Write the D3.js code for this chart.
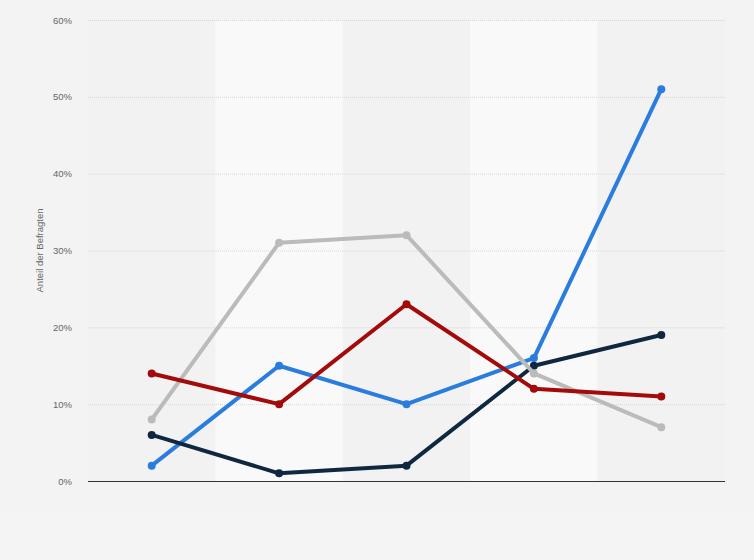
<!DOCTYPE html>
<html>
<head>
<meta charset="utf-8">
<script src="https://cdn.jsdelivr.net/npm/d3@7/dist/d3.min.js"></script>
<style>
html,body{margin:0;padding:0;background:#f4f4f4;}
svg{display:block;}
</style>
</head>
<body>
<svg id="chart" width="754" height="560"></svg>
<script>
const categories = ["A", "B", "C", "D", "E"];
const seriesBlue = [2, 15, 10, 16, 51];
const seriesNavy = [6, 1, 2, 15, 19];
const seriesGray = [8, 31, 32, 14, 7];
const seriesRed = [14, 10, 23, 12, 11];
const yTicks = [0, 10, 20, 30, 40, 50, 60];
const yLabel = "Anteil der Befragten";

const series = [
  {name: "blue", values: seriesBlue, color: "#2a7ddf"},
  {name: "navy", values: seriesNavy, color: "#10283f"},
  {name: "gray", values: seriesGray, color: "#bbbbbb"},
  {name: "red", values: seriesRed, color: "#a30b0b"}
];

const svg = d3.select("#chart");
const W = 754, H = 560;
const m = {left: 88, right: 29, top: 20, bottom: 79};
const iw = W - m.left - m.right, ih = H - m.top - m.bottom;

svg.append("rect").attr("width", W).attr("height", 512).attr("fill", "#f3f3f3");

const g = svg.append("g").attr("transform", `translate(${m.left},${m.top})`);

const x = d3.scaleBand().domain(categories).range([0, iw]).padding(0);
const y = d3.scaleLinear().domain([0, 60]).range([ih, 0]);

// bands
g.selectAll("rect.band").data(categories).join("rect")
  .attr("class", "band")
  .attr("x", d => x(d)).attr("y", 0)
  .attr("width", x.bandwidth()).attr("height", ih)
  .attr("fill", (d, i) => i % 2 === 1 ? "#f9f9f9" : "#f2f2f2");

// y axis ticks
const yAxis = d3.axisLeft(y).tickValues(yTicks).tickFormat(d => d + "%").tickSize(0).tickPadding(16);
const ya = g.append("g").call(yAxis);
ya.select(".domain").remove();
ya.selectAll("text").attr("fill", "#666").attr("font-size", "9.5px").attr("font-family", "Arial, 'Liberation Sans', sans-serif");

// grid
g.selectAll("line.grid").data(yTicks.filter(t => t > 0)).join("line")
  .attr("class", "grid")
  .attr("x1", 0).attr("x2", iw)
  .attr("y1", d => y(d) + 0.5).attr("y2", d => y(d) + 0.5)
  .attr("stroke", "#d7d7d7").attr("stroke-width", 1).attr("stroke-dasharray", "1,1");

// x axis line
g.append("line").attr("x1", 0).attr("x2", iw).attr("y1", ih + 0.5).attr("y2", ih + 0.5)
  .attr("stroke", "#333").attr("stroke-width", 1);

// y label
svg.append("text")
  .attr("transform", `translate(43,${m.top + ih / 2}) rotate(-90)`)
  .attr("text-anchor", "middle")
  .attr("fill", "#666").attr("font-size", "9.5px")
  .attr("font-family", "Arial, 'Liberation Sans', sans-serif")
  .text(yLabel);

const cx = d => x(d) + x.bandwidth() / 2;
const line = d3.line().x((v, i) => cx(categories[i])).y(v => y(v));

series.forEach(s => {
  const sg = g.append("g");
  sg.append("path").datum(s.values).attr("d", line)
    .attr("fill", "none").attr("stroke", s.color).attr("stroke-width", 4)
    .attr("stroke-linejoin", "round").attr("stroke-linecap", "round");
  sg.selectAll("circle").data(s.values).join("circle")
    .attr("cx", (v, i) => cx(categories[i])).attr("cy", v => y(v))
    .attr("r", 4).attr("fill", s.color);
});
</script>
</body>
</html>
